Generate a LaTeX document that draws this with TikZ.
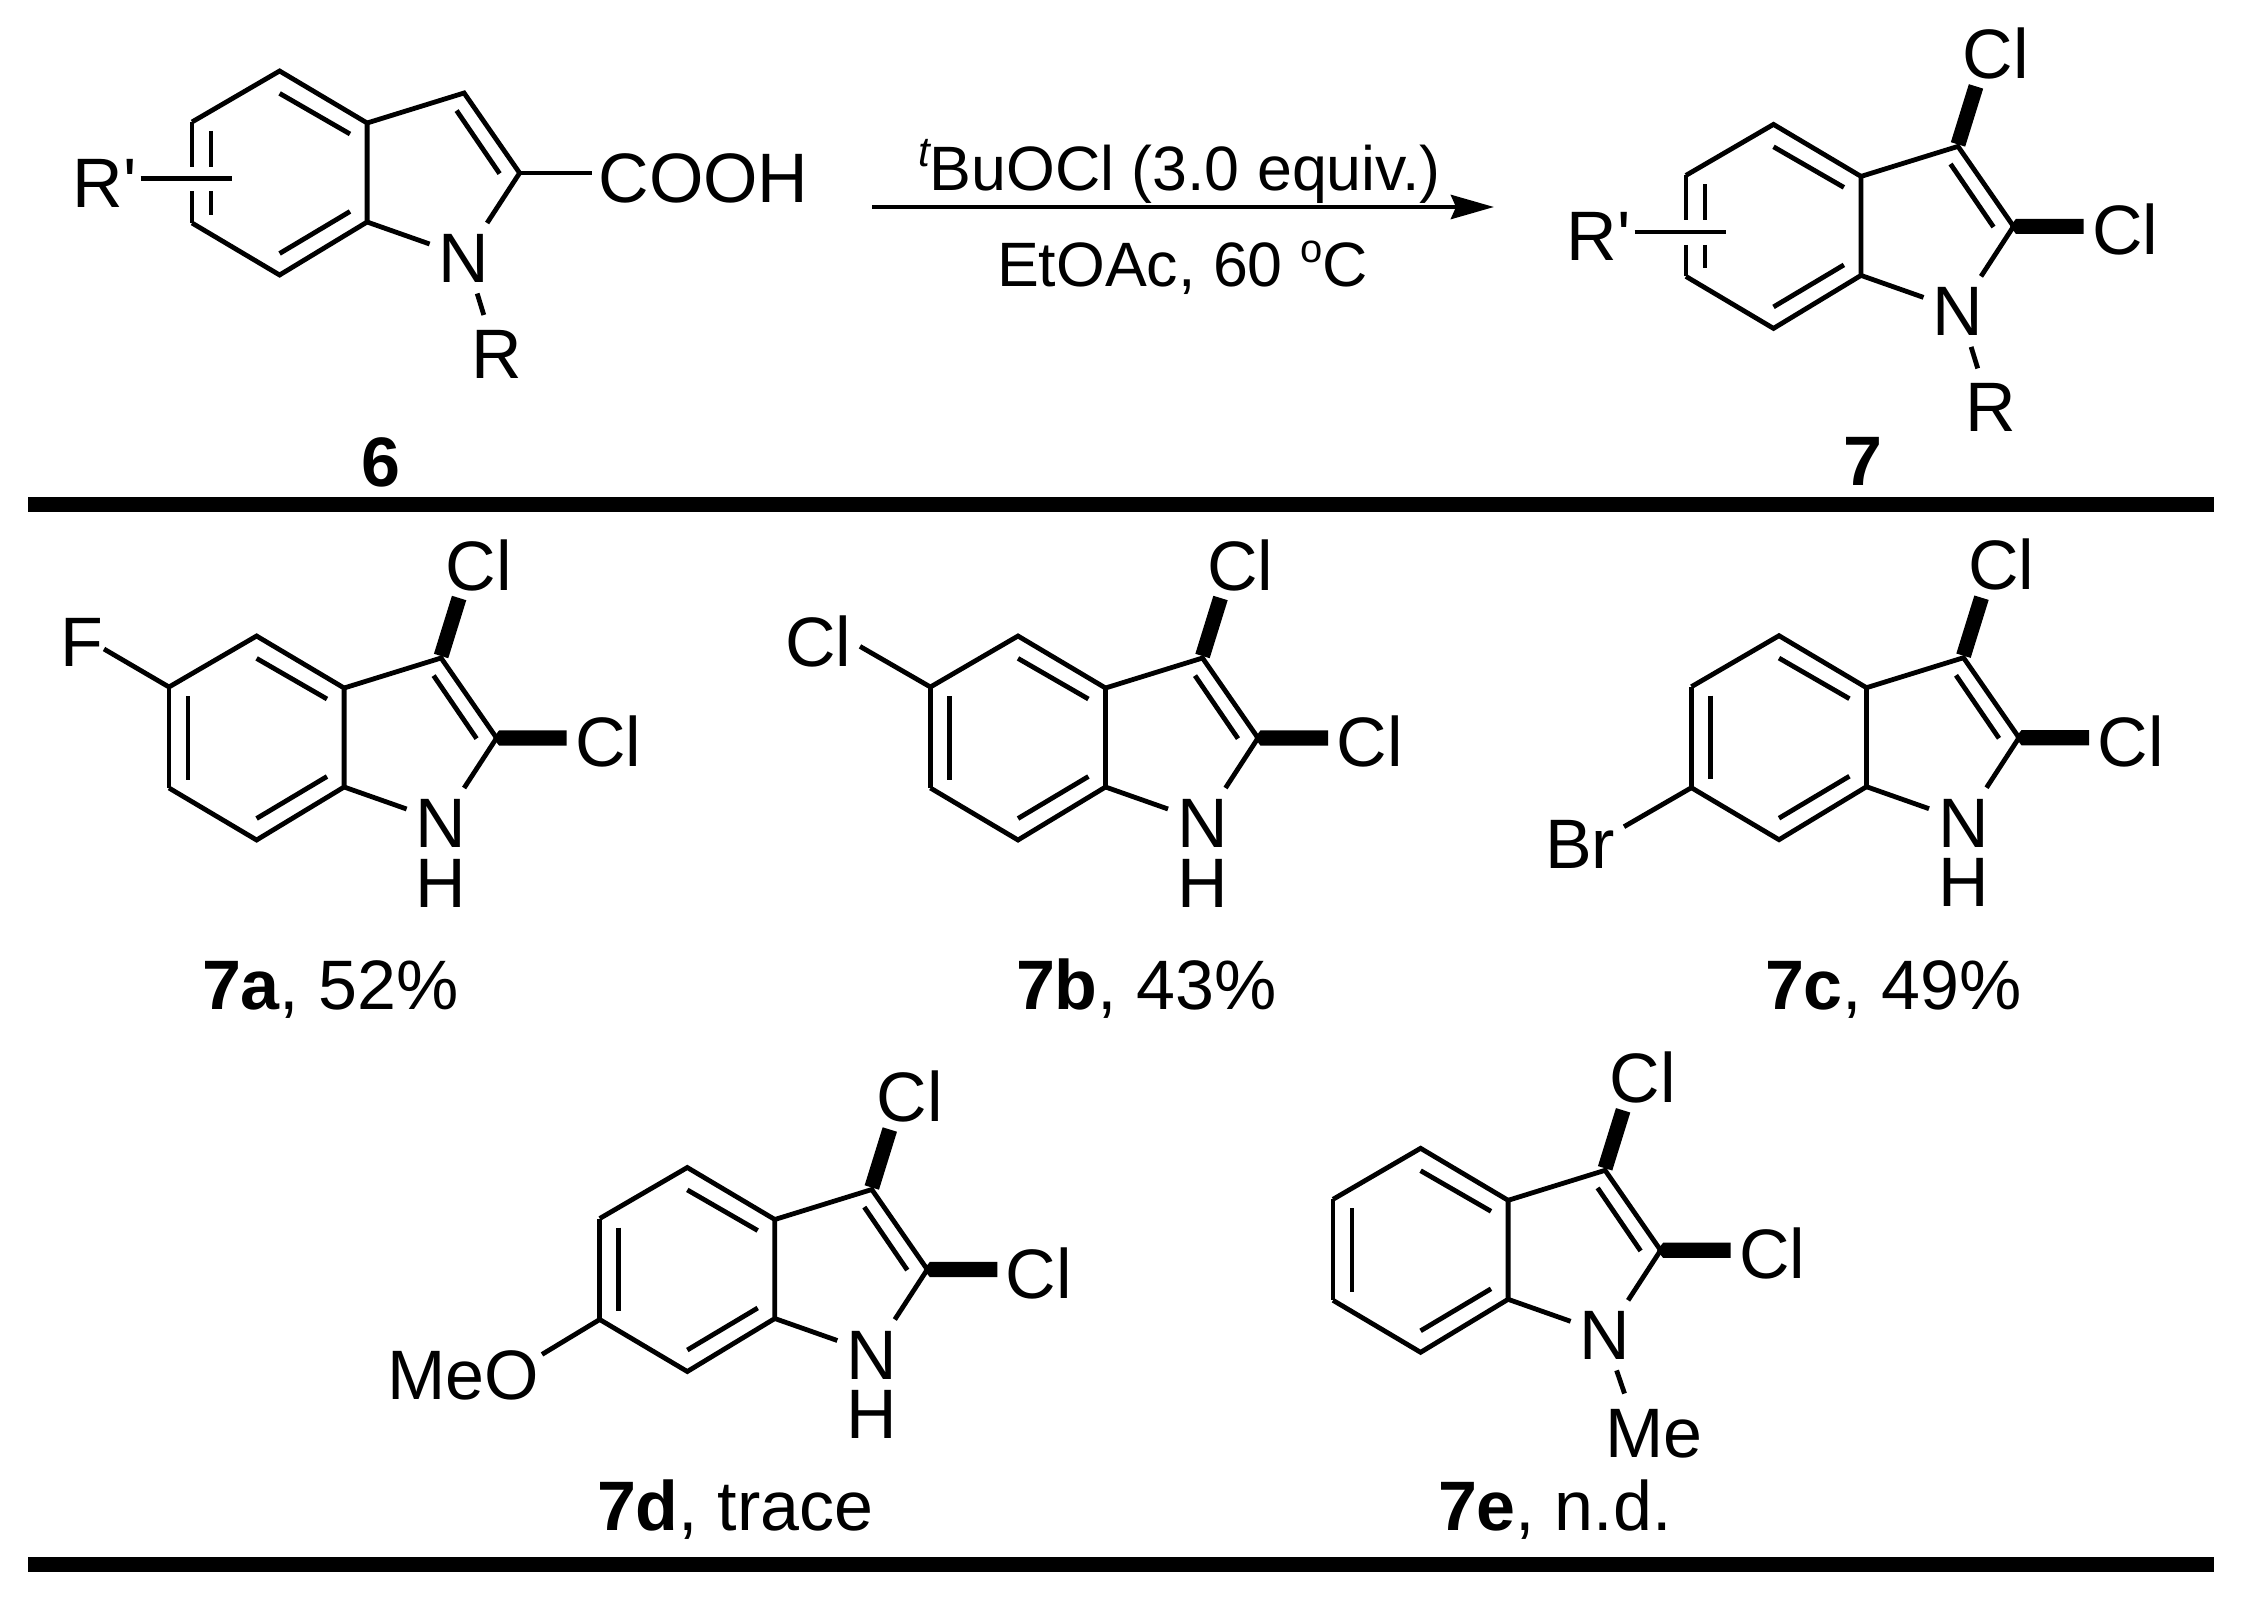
\documentclass[tikz,border=0pt]{standalone}
\usepackage{fontspec}
\setmainfont{Liberation Sans}[Ligatures=TeXOff]
\usetikzlibrary{arrows.meta}
\tikzset{
  bond/.style={line width=4.8pt,line join=miter,miter limit=10,black},
  boldbond/.style={line width=15pt,black},
  boldfill/.style={fill=black,draw=none},
  rulebar/.style={line width=15pt,black},
  atom/.style={inner sep=0pt,outer sep=0pt,anchor=base west,yshift=-1.5pt,font=\fontsize{70}{84}\selectfont},
  caption/.style={atom,yshift=-3pt},
  reagent/.style={inner sep=0pt,outer sep=0pt,anchor=base west,yshift=-1.5pt,font=\fontsize{62.7}{74}\selectfont},
}
\newcommand{\indolecore}[3]{%
  \begin{scope}[shift={(#2,#3)}]
    \coordinate (#1T) at (0,0);
    \coordinate (#1UL) at (-87.6,51);
    \coordinate (#1LL) at (-87.6,152);
    \coordinate (#1B) at (0,204);
    \coordinate (#1C7a) at (87.5,151);
    \coordinate (#1C3a) at (87.5,52);
    \coordinate (#1C3) at (184.5,22);
    \coordinate (#1C2) at (240,102);
    \coordinate (#1ne) at (207.5,152);
    \coordinate (#1nw) at (150,173);
    \coordinate (#1i1) at (0,22.4);
    \coordinate (#1i2) at (70.4,63);
    \coordinate (#1i3) at (70.4,140.5);
    \coordinate (#1i4) at (0,182.5);
    \coordinate (#1i5) at (177,39.6);
    \coordinate (#1i6) at (220,102.6);
    \coordinate (#1b1) at (184.5,20);
    \coordinate (#1b2) at (202.5,-38);
    \coordinate (#1p1) at (236.5,102);
    \coordinate (#1p2) at (242.5,94.4);
    \coordinate (#1p3) at (310,94.4);
    \coordinate (#1p4) at (310,109.6);
    \coordinate (#1p5) at (242.5,109.6);
    \coordinate (#1v1) at (-68.6,60);
    \coordinate (#1v2) at (-68.6,143.6);
    \draw[bond] (#1UL) -- (#1T) -- (#1C3a) -- (#1C7a) -- (#1B) -- (#1LL);
    \draw[bond] (#1C3a) -- (#1C3) -- (#1C2) -- (#1ne);
    \draw[bond] (#1C7a) -- (#1nw);
    \draw[bond] (#1i1) -- (#1i2);
    \draw[bond] (#1i3) -- (#1i4);
    \draw[bond] (#1i5) -- (#1i6);
    \node[atom] (#1N) at (159.2,210) {N};
  \end{scope}}
\newcommand{\dichloro}[3]{%
  \begin{scope}[shift={(#2,#3)}]
    \draw[boldbond] (#1b1) -- (#1b2);
    \fill[boldfill] (#1p1) -- (#1p2) -- (#1p3) -- (#1p4) -- (#1p5) -- cycle;
    \node[atom] (#1Clt) at (189.3,-47.5) {Cl};
    \node[atom] (#1Clr) at (318.5,129) {Cl};
  \end{scope}}
\newcommand{\fullleft}[3]{%
  \draw[bond] (#1UL) -- (#1LL);
  \draw[bond] (#1v1) -- (#1v2);
  \begin{scope}[shift={(#2,#3)}]
    \node[atom] (#1H) at (159,269.6) {H};
  \end{scope}}
\newcommand{\splitleft}[3]{%
  \begin{scope}[shift={(#2,#3)}]
    \coordinate (#1a) at (-87.6,96);
    \coordinate (#1c) at (-87.6,120.5);
    \coordinate (#1d) at (-68.6,96);
    \coordinate (#1e) at (-68.6,120.5);
    \coordinate (#1p) at (-139,107.6);
    \coordinate (#1q) at (-48,107.6);
    \coordinate (#1r) at (204.2,244);
    \coordinate (#1s) at (197.6,222.5);
    \draw[bond] (#1UL) -- (#1a);
    \draw[bond] (#1c) -- (#1LL);
    \draw[bond] (#1v1) -- (#1d);
    \draw[bond] (#1e) -- (#1v2);
    \draw[bond] (#1p) -- (#1q);
    \draw[bond] (#1s) -- (#1r);
    \node[atom] (#1Rp) at (-207,134.6) {R'};
    \node[atom] (#1R) at (191.8,305.5) {R};
  \end{scope}}
\begin{document}
\begin{tikzpicture}[x=1pt,y=-1pt]
\useasboundingbox (0,0) rectangle (2248,1597);
% compound 6
\indolecore{s}{279.6}{71}
\splitleft{s}{279.6}{71}
\coordinate (sc) at (592,173);
\draw[bond] (sC2) -- (sc);
\node[atom] (cooh) at (598.5,201) {COOH};
\node[caption,font=\bfseries\fontsize{70}{84}\selectfont] (l6) at (361,481.5) {6};
% arrow
\coordinate (as) at (872,207);
\coordinate (ae) at (1494,207);
\draw[line width=4.8pt,-{Stealth[length=43pt,width=24pt,inset=5pt]}] (as) -- (ae);
\node[reagent] (r1) at (918,189) {\raisebox{24pt}{\fontsize{42}{42}\selectfont\itshape t}BuOCl (3.0 equiv.)};
\node[reagent] (r2) at (997,284.6) {EtOAc, 60 \raisebox{24pt}{\fontsize{40}{40}\selectfont o}C};
% compound 7
\indolecore{g}{1773.5}{124.4}
\splitleft{g}{1773.5}{124.4}
\dichloro{g}{1773.5}{124.4}
\node[caption,font=\bfseries\fontsize{70}{84}\selectfont] (l7) at (1843,481) {7};
% rules
\coordinate (ra) at (28,504);
\coordinate (rb) at (2214,504);
\coordinate (rc) at (28,1564);
\coordinate (rd) at (2214,1564);
\draw[rulebar] (ra) -- (rb);
\draw[rulebar] (rc) -- (rd);
% 7a
\indolecore{a}{256.6}{636}
\fullleft{a}{256.6}{636}
\dichloro{a}{256.6}{636}
\node[atom] (aF) at (60.5,664.6) {F};
\coordinate (afb) at (104,649);
\draw[bond] (afb) -- (aUL);
\node[caption] (la) at (202,1005) {{\bfseries 7a}, 52\%};
% 7b
\indolecore{b}{1018}{636}
\fullleft{b}{1018}{636}
\dichloro{b}{1018}{636}
\node[atom] (bCl) at (785,665) {Cl};
\coordinate (bcb) at (860,646.4);
\draw[bond] (bcb) -- (bUL);
\node[caption] (lb) at (1016,1005) {{\bfseries 7b}, 43\%};
% 7c
\indolecore{c}{1779}{635.7}
\fullleft{c}{1779}{635.7}
\dichloro{c}{1779}{635.7}
\node[atom] (cBr) at (1545,866.7) {Br};
\coordinate (cbb) at (1624,826.7);
\draw[bond] (cbb) -- (cLL);
\node[caption] (lc) at (1765,1005) {{\bfseries 7c}, 49\%};
% 7d
\indolecore{d}{687.3}{1167.5}
\fullleft{d}{687.3}{1167.5}
\dichloro{d}{687.3}{1167.5}
\node[atom] (dMeO) at (387,1398) {MeO};
\coordinate (dob) at (542,1354.4);
\draw[bond] (dob) -- (dLL);
\node[caption] (ld) at (597,1525.6) {{\bfseries 7d}, trace};
% 7e
\indolecore{e}{1420.6}{1148.3}
\draw[bond] (eUL) -- (eLL);
\draw[bond] (ev1) -- (ev2);
\dichloro{e}{1420.6}{1148.3}
\coordinate (em1) at (1616.6,1370.4);
\coordinate (em2) at (1624.5,1393.5);
\draw[bond] (em1) -- (em2);
\node[atom] (eMe) at (1605.6,1455.6) {Me};
\node[caption] (le) at (1438,1525.6) {{\bfseries 7e}, n.d.};
\end{tikzpicture}
\end{document}
